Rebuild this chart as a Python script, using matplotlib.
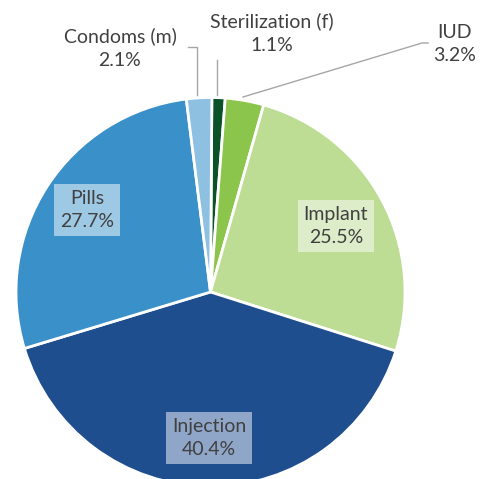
import matplotlib
matplotlib.use("Agg")
import matplotlib.pyplot as plt

labels = ["Sterilization (f)", "IUD", "Implant", "Injection", "Pills", "Condoms (m)"]
shares = [1.1, 3.2, 25.5, 40.4, 27.7, 2.1]
colors = ["#0b5228", "#8cc54b", "#bcdd93", "#1f4e8f", "#3a90c8", "#8ec0e1"]
box_colors = [None, None, "#ddedc9", "#8fa6c8", "#9ec9e5", None]

TXT = "#404040"
plt.rcParams["font.family"] = ["Lato", "DejaVu Sans"]

W, H = 491, 479
fig = plt.figure(figsize=(W / 100, H / 100), dpi=100)
ax = fig.add_axes([0, 0, 1, 1])

cx, cy, r = 210.5, H - 292, 194.5
ax.pie(shares, colors=colors, startangle=89.6, counterclock=False,
       center=(cx, cy), radius=r, frame=True,
       wedgeprops=dict(edgecolor="white", linewidth=2))
ax.set_xlim(0, W)
ax.set_ylim(0, H)
ax.set_aspect("equal")
ax.axis("off")

# labels inside big slices (pixel positions from the top)
inside = {2: (336, 226), 3: (209, 438), 4: (87, 210)}
for i, (px, py) in inside.items():
    ax.text(px, H - py, f"{labels[i]}\n{shares[i]}%", ha="center", va="center",
            fontsize=14, color=TXT, linespacing=1.45,
            bbox=dict(boxstyle="square,pad=0.3", fc=box_colors[i], ec="none"))

# outside labels with leader lines
outside = {0: (272, 33), 1: (455, 44), 5: (120, 48)}
for i, (px, py) in outside.items():
    ax.text(px, H - py, f"{labels[i]}\n{shares[i]}%", ha="center", va="center",
            fontsize=14, color=TXT, linespacing=1.45)

lc = "#a6a6a6"
ax.plot([217, 217], [H - 95, H - 60], color=lc, lw=1)
ax.plot([243, 422, 428], [H - 97, H - 43, H - 43], color=lc, lw=1)
ax.plot([197, 197, 188], [H - 95, H - 47, H - 47], color=lc, lw=1)

fig.savefig("out.png", dpi=100)
